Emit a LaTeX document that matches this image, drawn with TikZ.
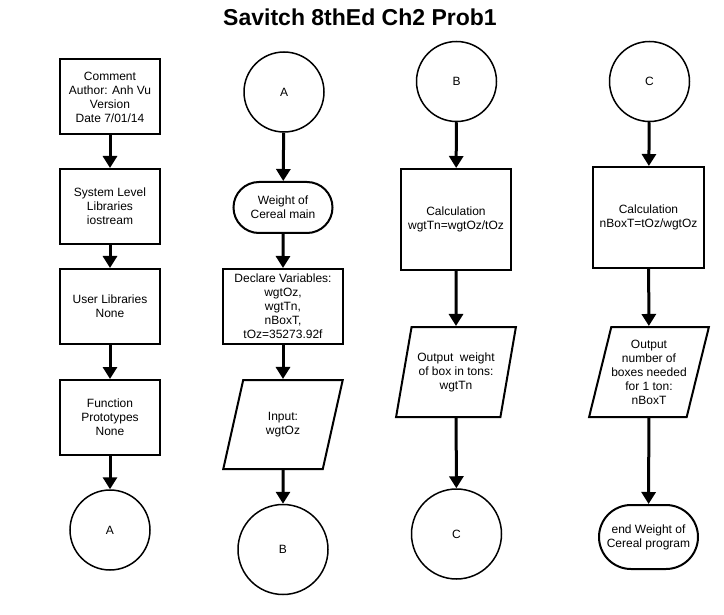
\documentclass[tikz,border=0pt]{standalone}
\usepackage{fontspec}
\setmainfont{Liberation Sans}
\usetikzlibrary{arrows.meta,shapes.geometric,shapes.misc}

\begin{document}
\begin{tikzpicture}[x=1pt,y=-1pt,
    every node/.style={align=center,font=\fontsize{12}{14}\selectfont},
    proc/.style={rectangle,draw,line width=2pt,minimum width=100pt,minimum height=75pt,inner sep=1pt},
    conn/.style={circle,draw,line width=1.5pt,minimum size=80pt,inner sep=0pt},
    term/.style={rounded rectangle,draw,line width=2pt,minimum width=101pt,minimum height=51pt,inner sep=1pt},
    io/.style={trapezium,draw,line width=2pt,trapezium left angle=71,trapezium right angle=109,
      trapezium stretches=true,minimum width=120pt,minimum height=89pt,inner sep=0pt}]

      \useasboundingbox (0,0) rectangle (724,615);
      \node[font=\fontsize{23}{26}\selectfont\bfseries] (t) at (360,17) {Savitch 8thEd Ch2 Prob1};

      % column one
      \node[proc] (1)  at (110,97)    {Comment\\Author: Anh Vu\\Version\\Date 7/01/14};
      \node[proc] (2)  at (110,206.5) {System Level\\Libraries\\iostream};
      \node[proc] (3)  at (110,306.5) {User Libraries\\None};
      \node[proc] (4)  at (110,417.5) {Function\\Prototypes\\None};
      \node[conn] (5)  at (110,530)   {A};

      % column two
      \node[conn] (6)  at (284,92)    {A};
      \node[term] (7)  at (283,207.5) {Weight of\\Cereal main};
      \node[proc,minimum width=120pt] (8)  at (283,306.5) {Declare Variables:\\wgtOz,\\wgtTn,\\nBoxT,\\tOz=35273.92f};
      \node[io]   (9)  at (283,424.5) {Input:\\wgtOz};
      \node[conn,minimum size=90pt] (10) at (283,549.5) {B};

      % column three
      \node[conn] (11) at (456.5,81.5) {B};
      \node[proc,minimum width=110pt,minimum height=101pt] (12) at (456,219.5) {Calculation\\wgtTn=wgtOz/tOz};
      \node[io,minimum height=90pt] (13) at (456,372) {Output~ weight\\of box in tons:\\wgtTn};
      \node[conn,minimum size=90pt] (14) at (456.5,534) {C};

      % column four
      \node[conn] (15) at (649.5,81.5) {C};
      \node[proc,minimum width=111pt,minimum height=101pt] (16) at (648.5,217.5) {Calculation\\nBoxT=tOz/wgtOz};
      \node[io,minimum height=90pt] (17) at (649,372) {Output\\number of\\boxes needed\\for 1 ton:\\nBoxT};
      \node[term,minimum height=64pt] (18) at (648.5,537) {end Weight of\\Cereal program};

      \begin{scope}[every edge/.style={draw,line width=3pt,-{Triangle[width=14pt,length=12pt]}}]
        \path (1) edge (2) (2) edge (3) (3) edge (4) (4) edge (5);
        \path (6) edge (7) (7) edge (8) (8) edge (9) (9) edge (10);
        \path (11) edge (12) (12) edge (13) (13) edge (14);
        \path (15) edge (16) (16) edge (17) (17) edge (18);
      \end{scope}

    \end{tikzpicture}
\end{document}
